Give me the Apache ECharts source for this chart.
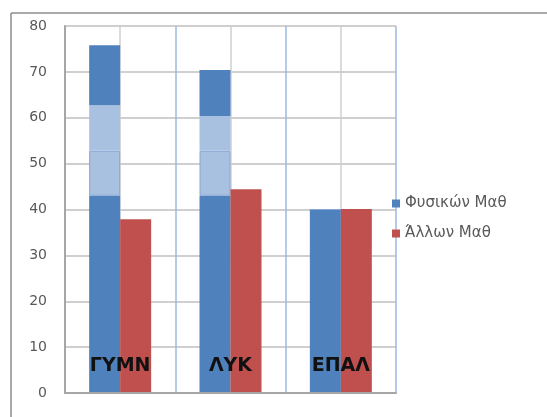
<!DOCTYPE html>
<html>
<head>
<meta charset="utf-8">
<script src="https://cdn.jsdelivr.net/npm/echarts@6/dist/echarts.min.js"></script>
<style>
  html, body { margin: 0; padding: 0; background: #fff; }
  #chart { width: 547px; height: 417px; }
</style>
</head>
<body>
<div id="chart"></div>
<script>
// categories and values
let categories = ["ΓΥΜΝ", "ΛΥΚ", "ΕΠΑΛ"];
let physBase = [43, 43, 40];       // dark blue bottom part
let physLight1 = [9.8, 9.8, 0];    // light blue, up to ~52.8
let physLight2 = [9.9, 7.6, 0];    // light blue, up to ~62.7 / ~60.4
let physTop = [13.1, 10, 0];       // dark blue top part
let otherVals = [37.9, 44.4, 40.1];

let darkBlue = "#4f81bd";
let lightBlue = "#a9c1e0";
let red = "#c0504d";

var myChart = echarts.init(document.getElementById("chart"));

function blueSeries(name, data, colour, border)
{
    return {
        name: name,
        type: "bar",
        stack: "phys",
        barWidth: 31,
        barGap: "0%",
        data: data,
        itemStyle: {
            color: colour,
            borderColor: border ? "#86a6d4" : colour,
            borderWidth: border ? 1 : 0
        }
    };
}

let option = {
    animation: false,
    textStyle: { fontFamily: "DejaVu Sans" },
    grid: { left: 65, right: 151, top: 26, bottom: 24 },
    legend: {
        data: ["Φυσικών Μαθ", "Άλλων Μαθ"],
        orient: "vertical",
        left: 387,
        top: 191,
        icon: "rect",
        itemWidth: 8,
        itemHeight: 8,
        itemGap: 15,
        itemStyle: { borderWidth: 0 },
        textStyle: { color: "#595959", fontSize: 15, fontFamily: "DejaVu Sans" }
    },
    xAxis: [
        {
            type: "category",
            data: categories,
            axisLine: { lineStyle: { color: "#a6a6a6", width: 2 } },
            axisTick: { show: false },
            splitLine: { show: false },
            axisLabel: {
                inside: true,
                margin: 17,
                color: "#111",
                fontWeight: "bold",
                fontSize: 19,
                fontFamily: "DejaVu Sans"
            },
            z: 5
        },
        {
            // only for the vertical grid lines (blue at borders, gray in centres)
            type: "value",
            min: 0,
            max: 3,
            interval: 0.5,
            position: "bottom",
            axisLine: { show: false },
            axisTick: { show: false },
            axisLabel: { show: false },
            splitLine: { show: true, lineStyle: { color: ["#9db9e0", "#cfcfcf"], width: 1.5 } }
        }
    ],
    yAxis: {
        type: "value",
        min: 0,
        max: 80,
        interval: 10,
        axisLine: { show: true, lineStyle: { color: "#a6a6a6", width: 2 } },
        axisTick: { show: false },
        axisLabel: { color: "#595959", fontSize: 14, margin: 18 },
        splitLine: { lineStyle: { color: "#cfcfcf", width: 2 } }
    },
    graphic: [
        { type: "line", shape: { x1: 11, y1: 13, x2: 547, y2: 13 }, style: { stroke: "#8c8c8c", lineWidth: 1.5 } },
        { type: "line", shape: { x1: 11, y1: 13, x2: 11, y2: 417 }, style: { stroke: "#8c8c8c", lineWidth: 1.5 } }
    ],
    series: [
        blueSeries("Φυσικών Μαθ", physBase, darkBlue, false),
        blueSeries("phys2", physLight1, lightBlue, true),
        blueSeries("phys3", physLight2, lightBlue, false),
        blueSeries("phys4", physTop, darkBlue, false),
        {
            name: "Άλλων Μαθ",
            type: "bar",
            barWidth: 31,
            barGap: "0%",
            data: otherVals,
            itemStyle: { color: red }
        }
    ]
};

myChart.setOption(option);
</script>
</body>
</html>
